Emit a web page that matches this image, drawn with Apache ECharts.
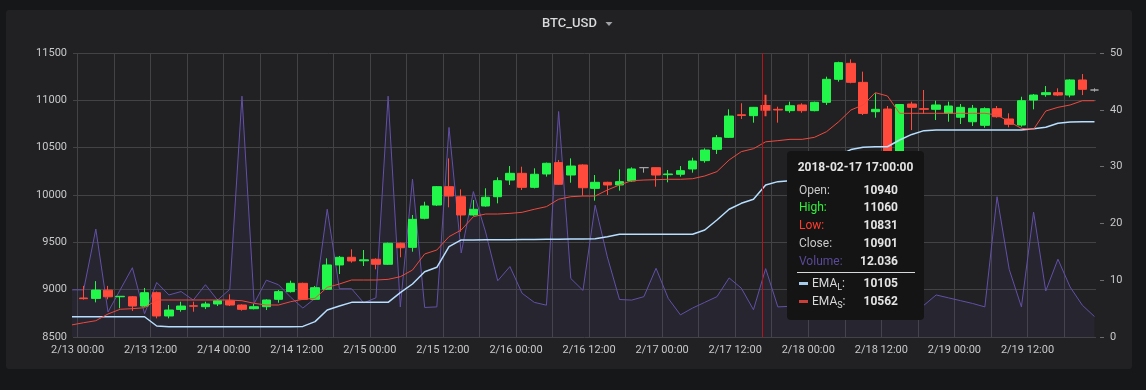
<!DOCTYPE html>
<html><head><meta charset="utf-8">
<script src="https://cdn.jsdelivr.net/npm/echarts@6/dist/echarts.min.js"></script>
<style>
html,body{margin:0;padding:0;background:#161719;width:1146px;height:390px;overflow:hidden;}
#panel{position:absolute;left:6px;top:10px;width:1126px;height:359px;background:#212124;border-radius:3px;}
#chart{position:absolute;left:0;top:0;width:1146px;height:390px;}
</style></head><body>
<div id="panel"></div><div id="chart"></div>
<script>
// time of every point (first entry only feeds the lines/volume, it sits at the clipped left edge)
const times = ['2018-02-12 23:00',
'2018-02-13 01:00','2018-02-13 03:00','2018-02-13 05:00','2018-02-13 07:00','2018-02-13 09:00','2018-02-13 11:00','2018-02-13 13:00','2018-02-13 15:00','2018-02-13 17:00','2018-02-13 19:00','2018-02-13 21:00','2018-02-13 23:00',
'2018-02-14 01:00','2018-02-14 03:00','2018-02-14 05:00','2018-02-14 07:00','2018-02-14 09:00','2018-02-14 11:00','2018-02-14 13:00','2018-02-14 15:00','2018-02-14 17:00','2018-02-14 19:00','2018-02-14 21:00','2018-02-14 23:00',
'2018-02-15 01:00','2018-02-15 03:00','2018-02-15 05:00','2018-02-15 07:00','2018-02-15 09:00','2018-02-15 11:00','2018-02-15 13:00','2018-02-15 15:00','2018-02-15 17:00','2018-02-15 19:00','2018-02-15 21:00','2018-02-15 23:00',
'2018-02-16 01:00','2018-02-16 03:00','2018-02-16 05:00','2018-02-16 07:00','2018-02-16 09:00','2018-02-16 11:00','2018-02-16 13:00','2018-02-16 15:00','2018-02-16 17:00','2018-02-16 19:00','2018-02-16 21:00','2018-02-16 23:00',
'2018-02-17 01:00','2018-02-17 03:00','2018-02-17 05:00','2018-02-17 07:00','2018-02-17 09:00','2018-02-17 11:00','2018-02-17 13:00','2018-02-17 15:00','2018-02-17 17:00','2018-02-17 19:00','2018-02-17 21:00','2018-02-17 23:00',
'2018-02-18 01:00','2018-02-18 03:00','2018-02-18 05:00','2018-02-18 07:00','2018-02-18 09:00','2018-02-18 11:00','2018-02-18 13:00','2018-02-18 15:00','2018-02-18 17:00','2018-02-18 19:00','2018-02-18 21:00','2018-02-18 23:00',
'2018-02-19 01:00','2018-02-19 03:00','2018-02-19 05:00','2018-02-19 07:00','2018-02-19 09:00','2018-02-19 11:00','2018-02-19 13:00','2018-02-19 15:00','2018-02-19 17:00','2018-02-19 19:00','2018-02-19 21:00','2018-02-19 23:00'];

// candles (one per time from index 1)
const openV = [8912,8908,8995,8925,8925,8827,8968,8722,8790,8830,
8820,8849,8883,8838,8799,8820,8898,8979,9067,8898,
9004,9261,9342,9305,9321,9268,9490,9447,9754,9894,
10088,9982,9789,9884,9982,10158,10229,10081,10222,10342,
10211,10317,10070,10134,10106,10148,10289,10289,10215,10219,
10275,10363,10482,10609,10848,10838,10940,10905,10891,10951,
10891,10979,11222,11391,11190,10880,10908,10180,10961,10912,
10905,10863,10821,10774,10736,10912,10803,10739,11003,11060,
11081,11056,11215,11109];
const highV = [9040,9090,9040,8933,8932,9018,8980,8838,8873,8873,
8873,8898,8951,8845,8849,8898,8996,9095,9074,9039,
9331,9356,9426,9419,9331,9497,9497,9789,9929,10095,
10387,10060,9947,10071,10187,10306,10299,10282,10342,10370,
10387,10324,10211,10140,10271,10292,10289,10292,10264,10306,
10394,10493,10634,10905,10969,10930,11060,10933,10986,10969,
10986,11250,11408,11433,11303,11074,10940,10960,10986,11109,
10996,10986,10961,10951,10926,10940,10863,11038,11067,11151,
11127,11222,11278,11127];
const lowV = [8895,8866,8898,8803,8775,8820,8697,8697,8767,8767,
8795,8827,8827,8778,8792,8785,8862,8970,8891,8891,
8996,9165,9285,9250,9215,9261,9342,9401,9743,9884,
9870,9612,9780,9877,9912,10106,10053,10070,10194,10106,
10130,9993,9940,10000,10046,10141,10236,10088,10134,10194,
10236,10341,10433,10602,10803,10764,10831,10764,10869,10869,
10884,10951,11197,11180,10845,10817,10150,10120,10686,10856,
10792,10774,10750,10729,10711,10817,10715,10722,10905,11038,
11045,11032,11056,11091];
const closeV = [8905,8996,8925,8930,8827,8968,8722,8785,8827,8825,
8849,8883,8838,8792,8820,8891,8979,9067,8898,9021,
9261,9342,9303,9315,9268,9490,9443,9743,9884,10088,
9989,9789,9849,9976,10151,10229,10081,10219,10335,10113,
10306,10077,10134,10106,10141,10275,10289,10211,10222,10257,
10359,10475,10605,10834,10840,10926,10901,10898,10943,10891,
10979,11222,11398,11190,10862,10905,10180,10956,10926,10905,
10951,10940,10926,10916,10912,10827,10747,10996,11056,11081,
11056,11215,11116,11109];

// per-time series (same length as times)
const volumeV = [8.3,8.3,19.0,4.4,8.3,12.2,4.1,9.6,7.4,8.0,6.5,9.2,6.5,8.4,42.4,5.9,10.0,9.2,7.0,5.1,6.8,22.5,8.5,8.5,6.0,6.9,42.4,5.3,27.8,5.2,5.3,36.9,14.8,25.6,18.5,9.9,12.4,7.7,6.1,5.6,39.7,10.3,8.2,23.2,14.1,6.6,6.5,7.1,12.1,6.8,3.9,5.1,6.1,7.1,10.4,8.6,4.8,12.036,5.3,5.4,7.5,6.2,9.8,14.5,8.6,17.2,10.4,19.5,9.1,6.4,5.6,7.4,6.9,6.4,5.9,5.3,24.7,11.9,5.3,22.0,8.1,13.7,8.8,5.6,3.6];
const emaL = [8714,8714,8714,8714,8714,8714,8714,8616,8609,8609,8609,8609,8609,8609,8609,8609,8609,8609,8609,8612,8662,8785,8827,8866,8866,8866,8866,8968,9060,9190,9236,9454,9525,9525,9527,9528,9528,9530,9530,9532,9532,9535,9535,9537,9560,9585,9585,9585,9585,9585,9585,9585,9630,9736,9849,9912,9955,10105,10141,10150,10160,10200,10300,10420,10480,10505,10510,10510,10581,10640,10680,10687,10687,10687,10687,10687,10687,10687,10687,10700,10715,10757,10771,10774,10774];
const emaS = [8627,8651,8672,8743,8793,8799,8810,8891,8891,8891,8891,8891,8891,8891,8883,8856,8838,8838,8873,8898,8909,9025,9060,9102,9102,9102,9109,9137,9207,9377,9419,9560,9630,9771,9799,9799,9806,9817,9849,9877,9955,9982,9989,9989,10053,10106,10151,10158,10162,10166,10166,10172,10201,10247,10370,10458,10489,10562,10574,10588,10588,10609,10669,10774,10898,10951,11081,11046,10863,10863,10863,10863,10863,10863,10863,10863,10845,10774,10704,10694,10887,10926,10951,10996,10996];

const xMin = '2018-02-12 23:15';
const xMax = '2018-02-19 23:15';
const priceMin = 8500, priceMax = 11500, priceStep = 500;
const volMin = 0, volMax = 50, volStep = 10;
const titleText = 'BTC_USD';
const cursorTime = '2018-02-17 16:26';
const hoverX = 762;

const FONT = "Roboto, 'Noto Sans', sans-serif";
const GRID = '#434346';
const LABEL = '#c7c8ca';

const chart = echarts.init(document.getElementById('chart'), null, {renderer: 'canvas'});

function pad(n){ return (n < 10 ? '0' : '') + n; }

function tipHtml(k) {
  const row = (top, label, color, value) =>
    '<div style="position:absolute;left:12px;top:' + top + 'px;line-height:14px;color:' + color + ';">' + label + '</div>' +
    '<div style="position:absolute;right:26px;top:' + top + 'px;line-height:14px;font-weight:bold;color:#e4e4e5;">' + value + '</div>';
  const emaRow = (top, sub, color, value) =>
    '<div style="position:absolute;left:12px;top:' + (top + 6) + 'px;width:9px;height:3px;background:' + color + ';"></div>' +
    '<div style="position:absolute;left:25px;top:' + top + 'px;line-height:14px;color:#d8d9da;">EMA<sub style="font-size:9px;line-height:0;">' + sub + '</sub>:</div>' +
    '<div style="position:absolute;right:26px;top:' + top + 'px;line-height:14px;font-weight:bold;color:#e4e4e5;">' + value + '</div>';
  return '<div style="position:relative;width:137px;height:169px;font-family:' + FONT + ';font-size:12px;">' +
    '<div style="position:absolute;left:0;right:0;top:9px;text-align:center;line-height:14px;font-weight:bold;color:#e4e4e5;">' + times[k + 1] + ':00</div>' +
    row(32, 'Open:', '#c9c9ca', openV[k]) +
    row(49, 'High:', '#2ff238', highV[k]) +
    row(67, 'Low:', '#ff3d2f', lowV[k]) +
    row(85, 'Close:', '#c9c9ca', closeV[k]) +
    row(103, 'Volume:', '#5b4a99', volumeV[k + 1]) +
    '<div style="position:absolute;left:10px;width:118px;top:121px;height:1px;background:#d8d9da;"></div>' +
    emaRow(125, 'L', '#a7cbeb', emaL[k + 1]) +
    emaRow(143, 'S', '#c9403a', emaS[k + 1]) +
    '</div>';
}

const option = {
  animation: false,
  backgroundColor: 'transparent',
  title: {
    text: titleText, left: 542, top: 17, padding: 0,
    textStyle: {color: '#d8d9da', fontSize: 13, fontWeight: 500, fontFamily: FONT}
  },
  graphic: [{
    type: 'polygon', silent: true,
    shape: {points: [[605.5, 22], [612.5, 22], [609, 26]]},
    style: {fill: '#9fa1a5'}
  }],
  grid: {left: 73, right: 50, top: 53, bottom: 53, containLabel: false, outerBoundsMode: 'none'},
  tooltip: {
    trigger: 'axis', triggerOn: 'none', alwaysShowContent: true, transitionDuration: 0,
    axisPointer: {type: 'line', snap: false, animation: false, label: {show: false},
      lineStyle: {color: 'rgba(0,0,0,0)', width: 0, opacity: 0}},
    position: [787, 151], padding: 0, borderWidth: 0, borderColor: 'transparent',
    backgroundColor: '#141414',
    extraCssText: 'box-shadow:none;border-radius:4px;',
    formatter: function (params) {
      const p = params.find(q => q.seriesType === 'candlestick');
      return p ? tipHtml(p.dataIndex) : '';
    }
  },
  xAxis: {
    type: 'time', min: xMin, max: xMax,
    minInterval: 12 * 3600 * 1000, maxInterval: 12 * 3600 * 1000,
    axisLine: {show: false}, axisTick: {show: false},
    splitLine: {show: true, showMinLine: false, showMaxLine: false, lineStyle: {color: GRID, width: 1}},
    axisLabel: {
      color: LABEL, fontSize: 11, fontFamily: FONT, margin: 8, hideOverlap: false,
      formatter: function (v) {
        const d = new Date(v);
        if (d.getMinutes() !== 0 || d.getHours() % 12 !== 0) return '';
        return (d.getMonth() + 1) + '/' + d.getDate() + ' ' + pad(d.getHours()) + ':00';
      }
    }
  },
  yAxis: [{
    type: 'value', min: priceMin, max: priceMax, interval: priceStep,
    axisLine: {show: false}, axisTick: {show: false},
    splitLine: {lineStyle: {color: GRID, width: 1}},
    axisLabel: {color: LABEL, fontSize: 11, fontFamily: FONT, margin: 6, formatter: v => String(v)}
  }, {
    type: 'value', position: 'right', offset: 4, min: volMin, max: volMax, interval: volStep,
    axisLine: {show: false},
    axisTick: {show: true, length: 4, lineStyle: {color: '#6c6c70'}},
    splitLine: {show: false},
    axisLabel: {color: LABEL, fontSize: 11, fontFamily: FONT, margin: 10, formatter: v => String(v)}
  }],
  series: [{
    name: 'Volume', type: 'line', yAxisIndex: 1, z: 1, silent: true,
    symbol: 'none', showSymbol: false,
    data: times.map((t, i) => [t, volumeV[i]]),
    lineStyle: {color: '#5b4a99', width: 1},
    areaStyle: {color: 'rgba(91,74,153,0.13)'}
  }, {
    name: 'BTC_USD', type: 'candlestick', z: 3, barWidth: 9,
    data: openV.map((o, i) => [times[i + 1], o, closeV[i], lowV[i], highV[i]]),
    itemStyle: {
      color: '#22f64b', color0: '#ff4a3c',
      borderColor: '#22f64b', borderColor0: '#ff4a3c',
      borderColorDoji: '#a6a6a8', borderWidth: 1
    },
    markLine: {
      silent: true, symbol: 'none', animation: false, z: 10,
      label: {show: false},
      lineStyle: {color: '#b3151b', width: 1, type: 'solid'},
      emphasis: {disabled: true},
      data: [{xAxis: cursorTime}]
    }
  }, {
    name: 'EMA_L', type: 'line', yAxisIndex: 0, z: 4, symbol: 'none', showSymbol: false,
    data: times.map((t, i) => [t, emaL[i]]),
    lineStyle: {color: '#a7cbeb', width: 1.5}
  }, {
    name: 'EMA_S', type: 'line', yAxisIndex: 0, z: 4, symbol: 'none', showSymbol: false,
    data: times.map((t, i) => [t, emaS[i]]),
    lineStyle: {color: '#d9443a', width: 1}
  }]
};
chart.setOption(option);
function showTip(){ chart.dispatchAction({type: 'showTip', x: hoverX, y: 200}); }
showTip();
setTimeout(showTip, 30);
</script>
</body></html>
